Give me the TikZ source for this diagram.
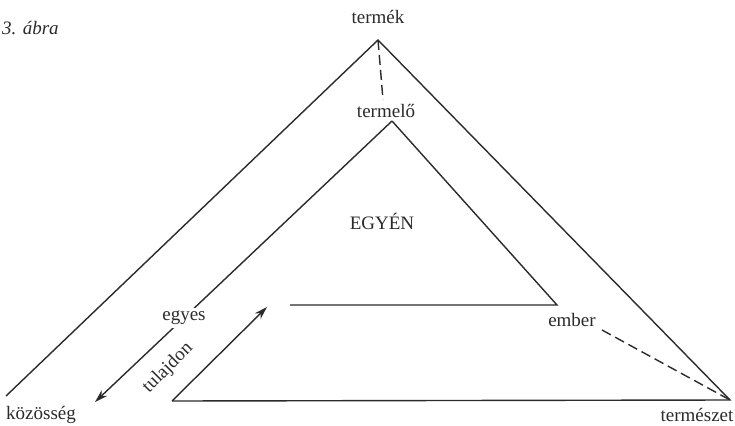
\documentclass[tikz,border=0pt]{standalone}
\usepackage{fontspec}
\setmainfont{Liberation Serif}
\usetikzlibrary{arrows.meta}
\definecolor{ink}{HTML}{2B2B2B}
\begin{document}
\begin{tikzpicture}[x=1pt,y=-1pt,
  ln/.style={line width=1.4pt, draw=ink},
  lbl/.style={font=\fontsize{19}{22}\selectfont, text=ink, inner sep=1pt},
  dsh/.style={ln, dash pattern=on 10pt off 5pt},
  arr/.style={-{Stealth[length=13pt,width=8pt]}}]
\useasboundingbox[fill=white] (0,0) rectangle (735,425);
% vertices
\coordinate (top) at (378,40);
\coordinate (L) at (6,396);
\coordinate (R) at (730,400);
\coordinate (iapex) at (392,121);
\coordinate (iright) at (557,305);
\coordinate (hstart) at (290,305);
\coordinate (tip) at (95,402);
\coordinate (bl) at (172,401);
\coordinate (atip) at (267,307);
\coordinate (dstart) at (602,330);
\coordinate (tdend) at (383,100);
% outer triangle
\draw[ln] (L) -- (top) -- (R) -- (bl);
\draw[ln,arr] (bl) -- (atip);
% inner figure
\draw[ln] (hstart) -- (iright) -- (iapex);
\draw[ln,arr] (iapex) -- (tip);
% dashed
\draw[dsh] (top) -- (tdend);
\draw[dsh] (dstart) -- (R);
% labels
\node[lbl, font=\fontsize{19}{22}\selectfont\itshape, anchor=west] (abra) at (1,28) {3. ábra};
\node[lbl] (termek) at (378,17) {termék};
\node[lbl] (termelo) at (386,111) {termelő};
\node[lbl] (egyen) at (382,221) {EGYÉN};
\node[lbl, fill=white, inner sep=3pt] (egyes) at (184,318) {egyes};
\node[lbl] (ember) at (572,320) {ember};
\node[lbl, rotate=45] (tulajdon) at (168,368) {tulajdon};
\node[lbl] (kozosseg) at (41,415) {közösség};
\node[lbl] (termeszet) at (697,415) {természet};
\end{tikzpicture}
\end{document}
